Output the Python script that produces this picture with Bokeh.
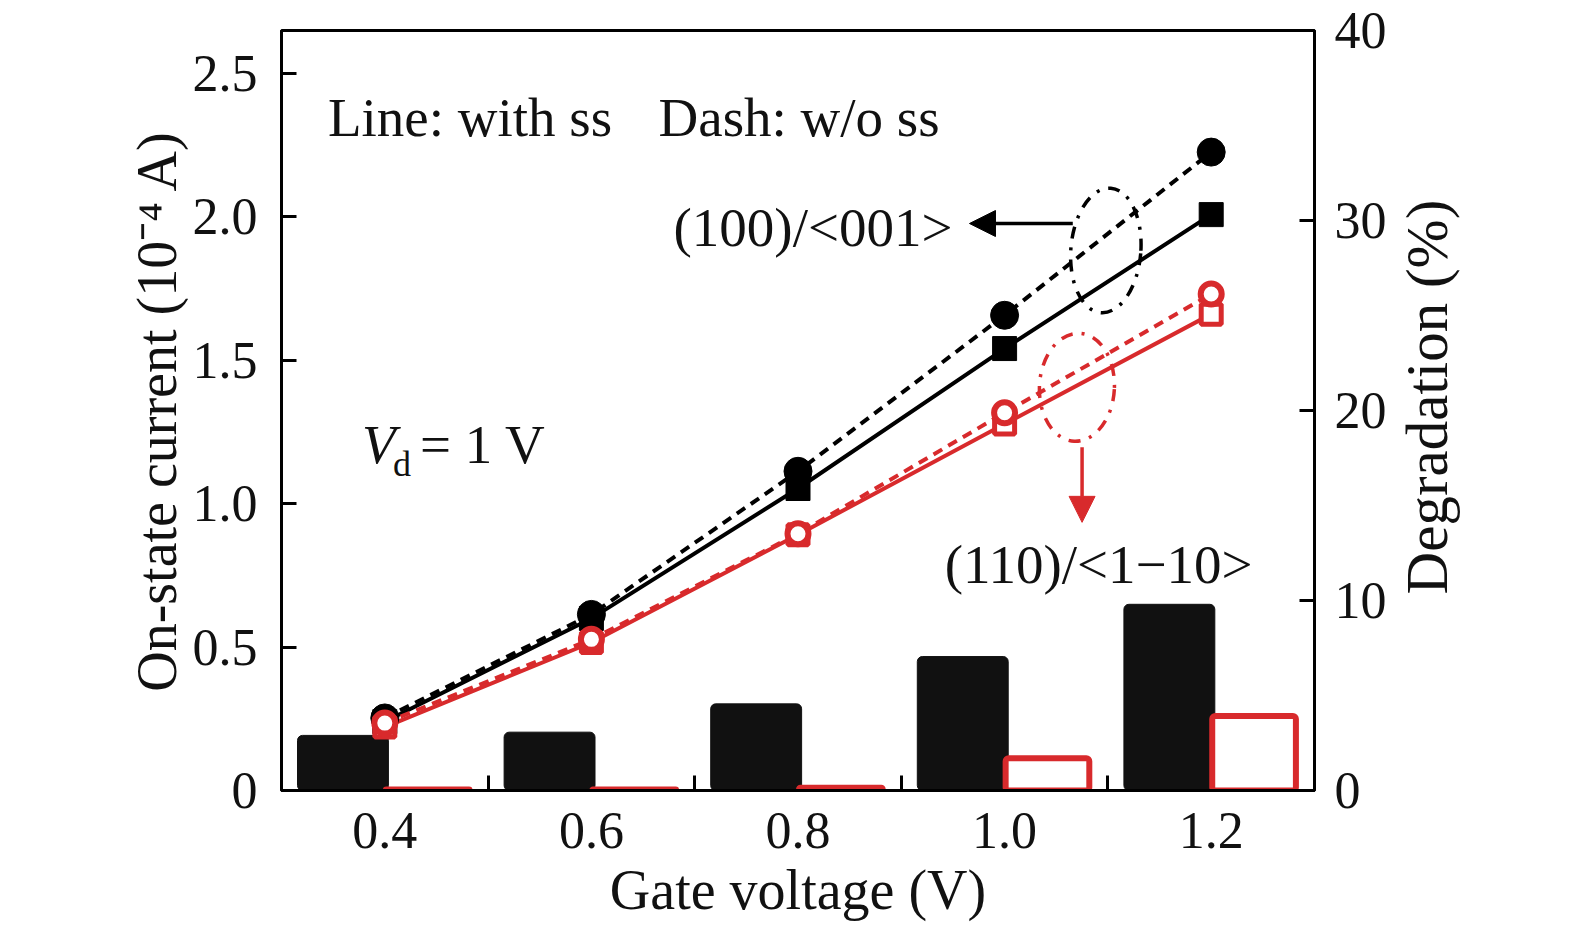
import math
from bokeh.plotting import figure
from bokeh.layouts import row
from bokeh.models import (Range1d, LinearAxis, FixedTicker, Label, Arrow, NormalHead,
                          ColumnDataSource, PrintfTickFormatter)
from bokeh.transform import dodge
from bokeh.core.properties import value
from bokeh.embed import file_html
from bokeh.resources import INLINE

gate_voltage = [0.4, 0.6, 0.8, 1.0, 1.2]
i100_without_ss = [0.253, 0.614, 1.113, 1.657, 2.226]
i100_with_ss = [0.240, 0.600, 1.053, 1.541, 2.008]
i110_without_ss = [0.235, 0.527, 0.895, 1.317, 1.731]
i110_with_ss = [0.221, 0.516, 0.892, 1.278, 1.661]
deg100 = [2.9, 3.07, 4.56, 7.05, 9.8]
deg110 = [0.05, 0.05, 0.15, 1.70, 3.92]
left_ticks = [0, 0.5, 1.0, 1.5, 2.0, 2.5]
right_ticks = [0, 10, 20, 30, 40]
boundary_ticks = [0.5, 0.7, 0.9, 1.1]
right_title = "Degradation (%)"

RED = "#d82a2c"
BLACK = "#000000"
FONT = "Liberation Serif"
H = 923

src = ColumnDataSource(dict(x=gate_voltage, a=i100_without_ss, b=i100_with_ss,
                            c=i110_without_ss, d=i110_with_ss, g1=deg100, g2=deg110))

p = figure(width=1390, height=H, output_backend="svg", toolbar_location=None,
           x_range=Range1d(0.3, 1.3), y_range=Range1d(0, 2.65),
           min_border_left=281, min_border_right=76, min_border_top=30, min_border_bottom=132)
p.extra_y_ranges = {"deg": Range1d(0, 40)}
p.grid.visible = False
p.outline_line_color = "black"
p.outline_line_width = 3
p.outline_line_alpha = 1

# bars (right axis)
p.vbar(x=dodge("x", -0.0405), top="g1", width=0.088, source=src, y_range_name="deg",
       fill_color="#111111", line_color="#111111", line_width=1, border_radius=5)
p.vbar(x=dodge("x", 0.0415), top="g2", width=0.081, source=src, y_range_name="deg",
       fill_color="white", line_color=RED, line_width=6, border_radius=3)

# lines
p.line("x", "a", source=src, line_color=BLACK, line_width=4, line_dash="10 7")
p.line("x", "b", source=src, line_color=BLACK, line_width=4)
p.line("x", "c", source=src, line_color=RED, line_width=4, line_dash="10 7")
p.line("x", "d", source=src, line_color=RED, line_width=4)

p.scatter("x", "a", source=src, marker="circle", size=28, fill_color=BLACK, line_color=BLACK)
p.scatter("x", "b", source=src, marker="square", size=24, fill_color=BLACK, line_color=BLACK)
p.scatter("x", "d", source=src, marker="square", size=20, fill_color="white", line_color=RED, line_width=5)
p.scatter("x", "c", source=src, marker="circle", size=21, fill_color="white", line_color=RED, line_width=6)

# axes
xa = p.xaxis[0]
xa.ticker = FixedTicker(ticks=gate_voltage, minor_ticks=boundary_ticks)
xa.formatter = PrintfTickFormatter(format="%.1f")
xa.major_tick_in = 0
xa.major_tick_out = 0
xa.minor_tick_in = 15
xa.minor_tick_out = 0
xa.minor_tick_line_width = 3
xa.axis_label = "Gate voltage (V)"
xa.major_label_standoff = 22
xa.axis_label_standoff = 8

ya = p.yaxis[0]
ya.ticker = FixedTicker(ticks=left_ticks, minor_ticks=[])
ya.formatter = PrintfTickFormatter(format="%.1f")
ya.major_label_overrides = {0: "0"}
ya.major_tick_in = 15
ya.major_tick_out = 0
ya.minor_tick_in = 0
ya.minor_tick_out = 0
ya.axis_label = "On-state current (10\u207b\u2074 A)"
ya.major_label_standoff = 24
ya.axis_label_standoff = 2

ra = LinearAxis(y_range_name="deg", ticker=FixedTicker(ticks=right_ticks, minor_ticks=[]))
ra.major_tick_in = 15
ra.major_tick_out = 0
ra.minor_tick_in = 0
ra.minor_tick_out = 0
ra.major_label_standoff = 20
p.add_layout(ra, "right")

for ax in [xa, ya, ra]:
    ax.axis_line_width = 3
    ax.axis_line_color = "black"
    ax.major_tick_line_width = 3
    ax.major_tick_line_color = "black"
    ax.major_label_text_font = FONT
    ax.major_label_text_font_size = "52px"
    ax.major_label_text_color = "#111111"
    ax.axis_label_text_font = FONT
    ax.axis_label_text_font_style = "normal"
    ax.axis_label_text_color = "#111111"
    ax.axis_label_text_font_size = "56px"

# annotations
def lab(x, y, t, size="55px", style="normal", color="#111111", align="left"):
    p.add_layout(Label(x=x, y=y, text=t, text_font=FONT, text_font_size=size,
                       text_font_style=style, text_color=color, text_align=align,
                       text_baseline="middle"))

lab(0.345, 2.345, "Line: with ss")
lab(0.665, 2.345, "Dash: w/o ss")
lab(0.6795, 1.963, "(100)/<001>")
lab(0.942, 0.787, "(110)/<1\u221210>")
lab(0.378, 1.206, "V", style="italic")
lab(0.408, 1.140, "d", size="36px")
lab(0.434, 1.206, "= 1 V")

# ellipses marking the line groups
p.ellipse(x=[1.098], y=[1.883], width=[70], height=[125], angle=[-0.08],
          width_units="screen", height_units="screen",
          fill_alpha=0, line_color=BLACK, line_width=3.5, line_dash="12 9 3 9")
p.ellipse(x=[1.070], y=[1.406], width=[75], height=[108], angle=[-0.05],
          width_units="screen", height_units="screen",
          fill_alpha=0, line_color=RED, line_width=3.5, line_dash="12 9 3 9")

p.add_layout(Arrow(x_start=1.066, y_start=1.977, x_end=0.966, y_end=1.977,
                   line_color=BLACK, line_width=3.5,
                   end=NormalHead(size=26, fill_color=BLACK, line_color=BLACK)))
p.add_layout(Arrow(x_start=1.075, y_start=1.197, x_end=1.075, y_end=0.935,
                   line_color=RED, line_width=3.5,
                   end=NormalHead(size=26, fill_color=RED, line_color=RED)))

# narrow strip on the right holding the right axis title (reads bottom to top);
# its frame is aligned vertically with the main plot's frame, so share the y range
W2 = 80
p2 = figure(width=W2, height=H, output_backend="svg", toolbar_location=None,
            x_range=Range1d(0, W2), y_range=p.y_range,
            x_axis_type=None, y_axis_type=None, min_border=0)
p2.grid.visible = False
p2.outline_line_color = None
p2.text(x=[36], y=[1.372], text=[right_title], angle=math.pi / 2,
        text_font=value(FONT), text_font_size="59px", text_color="#111111",
        text_align="center", text_baseline="middle")

open("out.html", "w").write(file_html(row(p, p2), INLINE))
